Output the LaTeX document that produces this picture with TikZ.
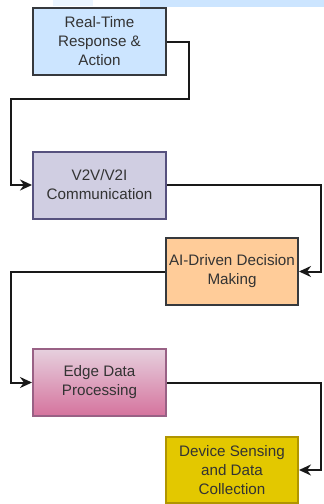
\documentclass[tikz,border=0pt]{standalone}
\usepackage{fontspec}
\setmainfont{Liberation Sans}
\usepackage{xcolor}
\usetikzlibrary{arrows.meta}
\definecolor{response}{HTML}{CCE5FF}
\definecolor{comm}{HTML}{D0CEE2}
\definecolor{commline}{HTML}{56517E}
\definecolor{decision}{HTML}{FFCC99}
\definecolor{edgetop}{HTML}{E6D0DE}
\definecolor{edgebot}{HTML}{D5739D}
\definecolor{edgeline}{HTML}{996185}
\definecolor{sensing}{HTML}{E3C800}
\definecolor{sensingline}{HTML}{B09500}
\definecolor{boxline}{HTML}{36393D}
\definecolor{boxtext}{HTML}{333333}
\tikzstyle{box}=[draw=boxline, line width=2pt, minimum width=133pt, minimum height=67pt,
  align=center, text=boxtext, font=\fontsize{15.2}{19}\selectfont, inner sep=0pt]
\tikzset{flow/.style={-{Stealth[length=12pt,width=11pt]}, line width=2pt, color=black!90}}

\begin{document}
\begin{tikzpicture}[x=1pt,y=-1pt]
  \useasboundingbox (0,0) rectangle (324,504);
  %% strip left over at the top edge
  \fill[response] (140,0) rectangle (324,7);
  \fill[response,opacity=.4] (53,0) rectangle (93,6);

  \draw (99.5,41.5) node[box,fill=response] (R) {Real-Time\\Response \&\\Action};
  \draw (99.5,185) node[box,fill=comm,draw=commline] (V) {V2V/V2I\\Communication};
  \draw (232,271.5) node[box,fill=decision,minimum width=132pt] (A) {AI-Driven Decision\\Making};
  \draw (99.5,382.5) node[box,top color=edgetop,bottom color=edgebot,draw=edgeline] (E) {Edge Data\\Processing};
  \draw (232,470) node[box,fill=sensing,draw=sensingline,minimum width=132pt,minimum height=66pt] (D) {Device Sensing\\and Data\\Collection};

  %% zig-zag links
  \draw[flow] (R.east) -- ++(22,0) -- ++(0,57) -| ([xshift=-21pt]V.west) -- (V.west);
  \draw[flow] (V.east) -| ([xshift=22pt]A.east) -- (A.east);
  \draw[flow] (A.west) -| ([xshift=-21pt]E.west) -- (E.west);
  \draw[flow] (E.east) -| ([xshift=22pt]D.east) -- (D.east);
\end{tikzpicture}
\end{document}
